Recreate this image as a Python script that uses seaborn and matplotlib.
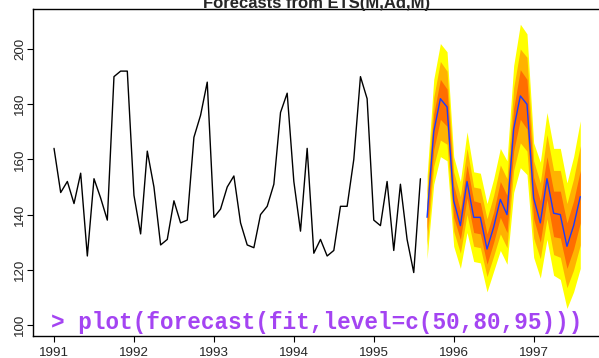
import numpy as np
import pandas as pd
import matplotlib
matplotlib.use("Agg")
import matplotlib.pyplot as plt
import seaborn as sns

# observed monthly series (Jan 1991 - Aug 1995)
obs = [164, 148, 152, 144, 155, 125, 153, 146, 138, 190, 192, 192,
       147, 133, 163, 150, 129, 131, 145, 137, 138, 168, 176, 188,
       139, 142, 150, 154, 137, 129, 128, 140, 143, 151, 177, 184,
       152, 134, 164, 126, 131, 125, 127, 143, 143, 160, 190, 182,
       138, 136, 152, 127, 151, 131, 119, 153]

# point forecasts (Sep 1995 - Aug 1997)
fc = [139, 170, 182, 179, 145, 136, 152, 139, 139, 127.5, 135.5, 145.5,
      140, 171, 183, 180, 146, 137, 153, 140.5, 140, 128.5, 136, 146.5]

lo95 = [124, 151, 161, 159.5, 128.5, 120.5, 133.5, 123, 122.5, 112, 119.5, 127,
        122, 148, 157, 154.5, 124.5, 117, 131, 118, 116.5, 106, 112, 120.5]
hi95 = [154, 189, 202, 199, 161, 152, 170, 155.5, 155, 144, 153, 164,
        159.5, 194, 209, 205.5, 166, 159, 177, 164, 164, 151.5, 161, 174]
lo80 = [129, 157.5, 167, 165.5, 134, 126, 140, 128.5, 128, 117.5, 125, 133,
        128, 156, 166, 163, 131.5, 124, 138.5, 125.5, 124.5, 113.5, 120, 129]
hi80 = [149, 182.5, 195.5, 192, 155.5, 146.5, 164, 150, 149.5, 138.5, 147, 158,
        153, 186, 200, 197, 159.5, 151.5, 169, 156, 156, 144, 153, 165]
lo50 = [134, 163.5, 174.5, 172, 139, 131, 146, 133.5, 133, 122, 130, 139,
        133.5, 163, 174.5, 171, 138.5, 130, 145.5, 132, 131.5, 120.5, 127.5, 137]
hi50 = [144, 176.5, 189, 185.5, 150.5, 141.5, 158, 145, 144.3, 133, 141, 152,
        147, 178.5, 192.5, 189, 153.5, 145, 161, 148.5, 148.5, 137, 145, 156]

x_ticks = [1991, 1992, 1993, 1994, 1995, 1996, 1997]
y_ticks = [100, 120, 140, 160, 180, 200]
title = "Forecasts from ETS(M,Ad,M)"
command = "> plot(forecast(fit,level=c(50,80,95)))"

t_obs = 1991 + np.arange(len(obs)) / 12
t_fc = 1991 + (len(obs) + np.arange(len(fc))) / 12
df_obs = pd.DataFrame({"t": t_obs, "y": obs})
df_fc = pd.DataFrame({"t": t_fc, "y": fc})

sns.set_style("ticks")
plt.rcParams["font.family"] = ["Liberation Sans", "DejaVu Sans"]

W, H = 599, 358
fig = plt.figure(figsize=(W / 100, H / 100), dpi=100)
ax = fig.add_axes([33 / W, 22 / H, 567 / W, 326.7 / H])

ax.fill_between(t_fc, lo95, hi95, color="#FFFF00", lw=0)
ax.fill_between(t_fc, lo80, hi80, color="#FFB300", lw=0)
ax.fill_between(t_fc, lo50, hi50, color="#FF6E00", lw=0)
sns.lineplot(data=df_obs, x="t", y="y", color="black", lw=1.0, ax=ax)
sns.lineplot(data=df_fc, x="t", y="y", color="#1A3CFF", lw=1.0, ax=ax)

ax.set_xlim(1990.737, 1997.83)
ax.set_ylim(96, 214.4)
ax.set_xticks(x_ticks)
ax.set_xticklabels([str(v) for v in x_ticks], fontsize=9.6)
ax.set_yticks(y_ticks)
ax.set_yticklabels([str(v) for v in y_ticks], fontsize=9.6, rotation=90, va="center")
ax.tick_params(direction="out", length=4.5, width=0.8, color="black")
ax.tick_params(axis="x", pad=3.5)
ax.tick_params(axis="y", pad=0.5)
ax.set_xlabel("")
ax.set_ylabel("")
for s in ax.spines.values():
    s.set_visible(True)
    s.set_color("black")
    s.set_linewidth(1.0)

fig.text(317 / W, 1 - 8 / H, title, ha="center", va="baseline",
         fontsize=12, fontweight="bold")
fig.text(51 / W, 1 - 329 / H, command, ha="left", va="baseline",
         fontsize=16.3, fontweight="bold", color="#A444F2",
         family=["Liberation Mono", "DejaVu Sans Mono"])

fig.savefig("out.png", dpi=100)
